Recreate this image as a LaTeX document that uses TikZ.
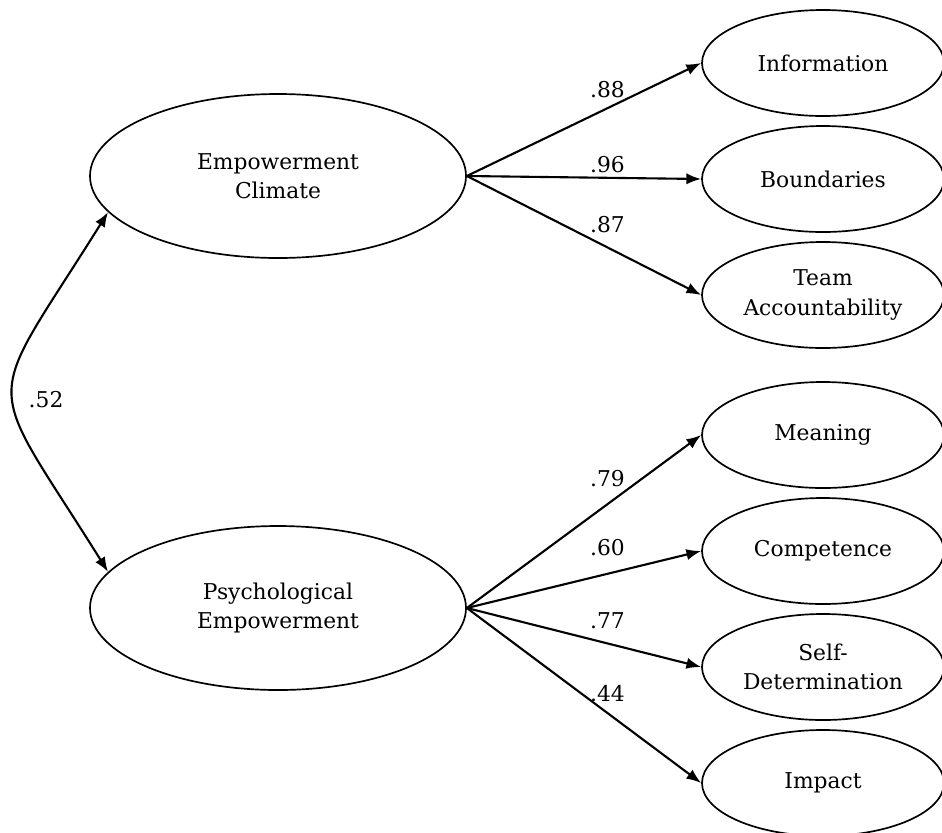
\documentclass[tikz,border=0pt]{standalone}
\usepackage{fontspec}
\setmainfont{DejaVu Serif}
\usetikzlibrary{shapes.geometric, arrows.meta, positioning}

\begin{document}
\begin{tikzpicture}[
    line width=1.2pt,
    node distance={29mm},
    >={Latex[length=10.5pt,width=8pt]},
    font=\fontsize{15.5}{21}\selectfont,
    factor/.style={ellipse, draw, minimum width=94mm, minimum height=41mm, align=center, inner sep=0pt},
    item/.style={ellipse, draw, minimum width=60.5mm, minimum height=26.5mm, align=center, inner sep=0pt},
    load/.style={->, line width=1.5pt},
    coef/.style={inner sep=0pt}
]

\useasboundingbox (0,0) rectangle (23.55,-20.8);

\node[factor] (ec) at (6.95,-4.4) {Empowerment\\Climate};
\node[factor] (pe) [node distance={108mm}, below of=ec] {Psychological\\Empowerment};

\node[item] (info) at (20.575,-1.575) {Information};
\node[item] (bound) [below of=info] {Boundaries};
\node[item] (team) [below of=bound] {Team\\Accountability};
\node[item] (mean) [node distance={35mm}, below of=team] {Meaning};
\node[item] (comp) [below of=mean] {Competence};
\node[item] (self) [below of=comp] {Self-\\Determination};
\node[item] (imp) [below of=self] {Impact};

\path[load]
    (ec.east) edge node[coef, above=6.4pt, pos=.6] {.88} (info.west)
    (ec.east) edge node[coef, above=2.5pt, pos=.6] {.96} (bound.west)
    (ec.east) edge node[coef, above=9.6pt, pos=.6] {.87} (team.west)
    (pe.east) edge node[coef, above=11.7pt, pos=.6] {.79} (mean.west)
    (pe.east) edge node[coef, above=11.7pt, pos=.6] {.60} (comp.west)
    (pe.east) edge node[coef, above=9.6pt, pos=.6] {.77} (self.west)
    (pe.east) edge node[coef, above=7.5pt, pos=.6] {.44} (imp.west)
    ;

\draw[<->, line width=1.5pt] (ec.192) to[out=238, in=122, looseness=1.7]
    node[coef, pos=.53, right=10pt] {.52} (pe.168);

\end{tikzpicture}
\end{document}
